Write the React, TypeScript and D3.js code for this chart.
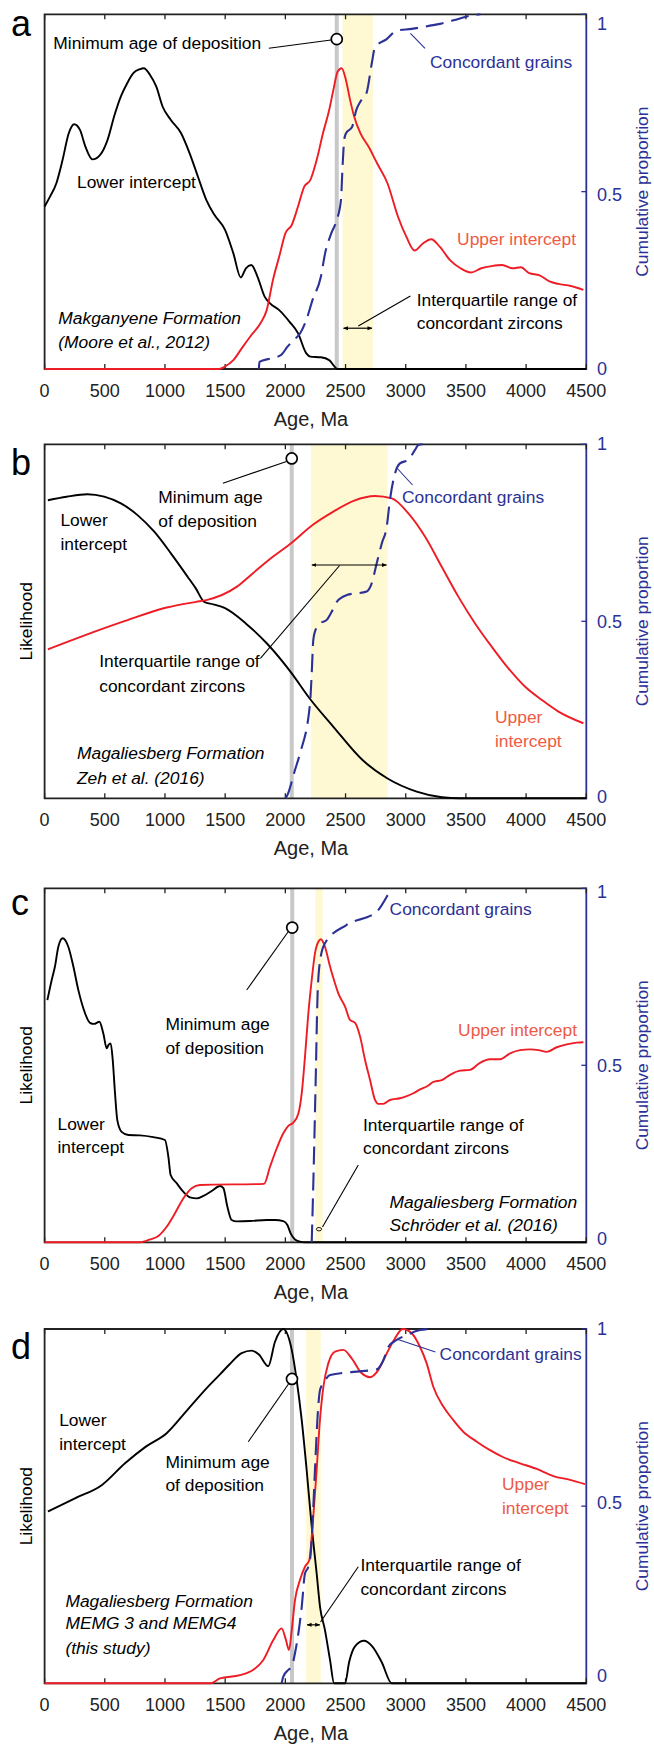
import React from "react";
import * as d3 from "d3";

type Pt = [number, number];

// Shared axes
const ageTicks = [0, 500, 1000, 1500, 2000, 2500, 3000, 3500, 4000, 4500];
const cumTicks = [0, 0.5, 1];
const cumTickLabels = ["0", "0.5", "1"];

// ---- a: Makganyene Formation (Moore et al., 2012)
const lowerA: Pt[] = [
  [0, 0.458], [45, 0.486], [97, 0.523], [149, 0.589], [200, 0.664], [246, 0.69], [294, 0.674],
  [339, 0.627], [398, 0.591], [460, 0.603], [523, 0.646], [581, 0.716], [633, 0.768], [685, 0.805],
  [737, 0.834], [789, 0.845], [824, 0.848], [876, 0.829], [928, 0.796], [980, 0.74], [1049, 0.702],
  [1135, 0.664], [1205, 0.608], [1274, 0.542], [1343, 0.477], [1412, 0.434], [1499, 0.392],
  [1568, 0.326], [1630, 0.258], [1672, 0.284], [1717, 0.293], [1769, 0.26], [1828, 0.204],
  [1873, 0.185], [1949, 0.166], [2035, 0.133], [2105, 0.101], [2174, 0.044], [2208, 0.035],
  [2295, 0.033], [2364, 0.025], [2434, 0], [4500, 0],
];
const upperA: Pt[] = [
  [0, 0], [1450, 0], [1499, 0.007], [1568, 0.025], [1637, 0.058], [1707, 0.091], [1793, 0.129],
  [1845, 0.166], [1897, 0.251], [1949, 0.317], [2001, 0.383], [2053, 0.406], [2105, 0.458],
  [2157, 0.514], [2208, 0.533], [2260, 0.589], [2312, 0.664], [2364, 0.73], [2399, 0.787],
  [2434, 0.838], [2468, 0.848], [2503, 0.815], [2538, 0.758], [2572, 0.711], [2624, 0.664],
  [2693, 0.626], [2762, 0.58], [2849, 0.523], [2935, 0.43], [3005, 0.373], [3074, 0.334],
  [3143, 0.354], [3212, 0.366], [3282, 0.345], [3368, 0.307], [3455, 0.284], [3541, 0.272],
  [3628, 0.284], [3714, 0.29], [3801, 0.293], [3887, 0.284], [3957, 0.287], [4026, 0.27],
  [4112, 0.264], [4199, 0.246], [4268, 0.24], [4372, 0.234], [4476, 0.223],
];
const concordA: Pt[] = [
  [1780, 0], [1785, 0.02], [1880, 0.03], [1966, 0.04], [2018, 0.063], [2070, 0.082], [2122, 0.1],
  [2174, 0.138], [2226, 0.195], [2295, 0.26], [2330, 0.326], [2382, 0.383], [2427, 0.42],
  [2462, 0.477], [2475, 0.57], [2489, 0.646], [2503, 0.664], [2555, 0.683], [2589, 0.73],
  [2624, 0.754], [2676, 0.78], [2717, 0.86], [2745, 0.907], [2842, 0.93], [2925, 0.954],
  [3050, 0.959], [3202, 0.968], [3285, 0.973], [3437, 0.987], [3534, 0.996], [3620, 1.0],
];

// ---- b: Magaliesberg Formation, Zeh et al. (2016)
const lowerB: Pt[] = [
  [27, 0.842], [183, 0.852], [356, 0.859], [495, 0.852], [634, 0.833], [772, 0.8], [911, 0.753],
  [1049, 0.692], [1188, 0.626], [1256, 0.593], [1326, 0.555], [1400, 0.548], [1499, 0.537],
  [1671, 0.494], [1845, 0.438], [2053, 0.353], [2191, 0.287], [2399, 0.202], [2641, 0.108],
  [2849, 0.056], [3091, 0.019], [3300, 0.003], [3450, 0], [4500, 0],
];
const upperB: Pt[] = [
  [27, 0.421], [322, 0.459], [669, 0.501], [1014, 0.539], [1258, 0.555], [1344, 0.56],
  [1598, 0.598], [1731, 0.636], [1880, 0.678], [2053, 0.722], [2226, 0.772], [2399, 0.81],
  [2572, 0.841], [2745, 0.854], [2884, 0.847], [3022, 0.805], [3161, 0.739], [3299, 0.654],
  [3438, 0.569], [3576, 0.494], [3715, 0.428], [3853, 0.367], [3992, 0.315], [4130, 0.278],
  [4269, 0.245], [4476, 0.212],
];
const concordB: Pt[] = [
  [2000, 0], [2011, 0.005], [2080, 0.08], [2122, 0.127], [2205, 0.268], [2219, 0.353],
  [2232, 0.447], [2246, 0.471], [2288, 0.494], [2344, 0.504], [2385, 0.527], [2427, 0.555],
  [2510, 0.574], [2676, 0.584], [2717, 0.607], [2759, 0.664], [2801, 0.72], [2842, 0.767],
  [2869, 0.843], [2911, 0.918], [2952, 0.946], [3021, 0.956], [3077, 0.984], [3105, 0.998],
  [3140, 1.0],
];

// ---- c: Magaliesberg Formation, Schröder et al. (2016)
const lowerC: Pt[] = [
  [23, 0.684], [59, 0.741], [86, 0.779], [114, 0.835], [150, 0.859], [197, 0.835], [239, 0.779],
  [280, 0.713], [322, 0.661], [377, 0.62], [410, 0.617], [455, 0.623], [488, 0.59], [516, 0.548],
  [530, 0.557], [549, 0.562], [566, 0.515], [585, 0.421], [604, 0.345], [640, 0.312], [696, 0.303],
  [792, 0.302], [903, 0.297], [1000, 0.289], [1028, 0.242], [1047, 0.19], [1097, 0.167],
  [1152, 0.143], [1208, 0.127], [1264, 0.124], [1319, 0.131], [1388, 0.145], [1457, 0.159],
  [1485, 0.153], [1518, 0.101], [1554, 0.063], [1596, 0.059], [1706, 0.06], [1845, 0.063],
  [1914, 0.063], [1983, 0.06], [2017, 0.049], [2044, 0.025], [2080, 0.008], [2122, 0.002],
  [2160, 0], [4500, 0],
];
const upperC: Pt[] = [
  [0, 0], [790, 0], [876, 0.008], [945, 0.018], [1014, 0.044], [1083, 0.082], [1152, 0.124],
  [1222, 0.153], [1291, 0.162], [1823, 0.165], [1873, 0.214], [1928, 0.265], [1983, 0.308],
  [2025, 0.329], [2066, 0.338], [2108, 0.364], [2136, 0.421], [2163, 0.524], [2191, 0.647],
  [2219, 0.741], [2246, 0.816], [2274, 0.849], [2296, 0.856], [2329, 0.835], [2371, 0.779],
  [2412, 0.732], [2440, 0.703], [2496, 0.666], [2537, 0.628], [2579, 0.62], [2621, 0.581],
  [2662, 0.515], [2704, 0.458], [2745, 0.402], [2772, 0.391], [2814, 0.391], [2869, 0.402],
  [2952, 0.407], [3008, 0.413], [3063, 0.421], [3119, 0.432], [3174, 0.44], [3230, 0.453],
  [3299, 0.458], [3368, 0.473], [3451, 0.485], [3534, 0.487], [3617, 0.507], [3700, 0.517],
  [3784, 0.517], [3867, 0.534], [3950, 0.543], [4033, 0.545], [4102, 0.543], [4171, 0.538],
  [4254, 0.551], [4337, 0.559], [4420, 0.564], [4476, 0.565],
];
const concordC: Pt[] = [
  [2219, 0], [2233, 0.176], [2252, 0.459], [2269, 0.713], [2294, 0.807], [2329, 0.845],
  [2510, 0.897], [2759, 0.934], [2842, 0.976], [2880, 1.0],
];

// ---- d: Magaliesberg Formation, MEMG 3 and MEMG4 (this study)
const lowerD: Pt[] = [
  [27, 0.485], [252, 0.522], [477, 0.56], [668, 0.621], [841, 0.668], [1014, 0.706], [1187, 0.772],
  [1360, 0.838], [1457, 0.872], [1533, 0.899], [1637, 0.932], [1720, 0.939], [1780, 0.928],
  [1858, 0.895], [1914, 0.964], [1983, 1.0], [2053, 0.941], [2094, 0.856], [2136, 0.743],
  [2177, 0.602], [2219, 0.442], [2260, 0.31], [2288, 0.216], [2329, 0.15], [2371, 0.066],
  [2405, 0], [2496, 0], [2530, 0.06], [2580, 0.105], [2653, 0.12], [2720, 0.105], [2800, 0.06],
  [2884, 0], [4500, 0],
];
const upperD: Pt[] = [
  [0, 0], [1380, 0], [1457, 0.014], [1623, 0.023], [1734, 0.038], [1817, 0.066], [1900, 0.122],
  [1969, 0.155], [2005, 0.122], [2030, 0.094], [2053, 0.15], [2080, 0.235], [2122, 0.292],
  [2163, 0.329], [2199, 0.348], [2219, 0.414], [2238, 0.498], [2260, 0.602], [2283, 0.724],
  [2316, 0.837], [2357, 0.903], [2413, 0.936], [2482, 0.941], [2551, 0.917], [2634, 0.875],
  [2703, 0.864], [2772, 0.884], [2842, 0.931], [2911, 0.974], [2974, 1.0], [3049, 0.988],
  [3118, 0.95], [3174, 0.903], [3229, 0.837], [3312, 0.781], [3395, 0.743], [3478, 0.71],
  [3590, 0.682], [3700, 0.658], [3811, 0.638], [3949, 0.621], [4088, 0.605], [4226, 0.585],
  [4365, 0.574], [4489, 0.562],
];
const concordD: Pt[] = [
  [1969, 0], [1983, 0.019], [2025, 0.038], [2053, 0.047], [2080, 0.085], [2108, 0.141],
  [2136, 0.216], [2163, 0.31], [2191, 0.329], [2211, 0.367], [2227, 0.461], [2246, 0.602],
  [2266, 0.743], [2288, 0.828], [2316, 0.847], [2371, 0.87], [2565, 0.879], [2759, 0.886],
  [2814, 0.912], [2856, 0.95], [2925, 0.969], [3008, 0.983], [3118, 0.997], [3194, 1.0],
];

// Minimum depositional ages and interquartile ranges of concordant grains (Ma)
const minAges = [2427, 2053, 2057, 2055];
const iqrRanges: Pt[] = [[2475, 2728], [2212, 2849], [2249, 2310], [2172, 2294]];

const FONT = '"Liberation Sans", Arial, Helvetica, sans-serif';
const BLUE = "#2b3196";
const RED = "#ee1c24";
const RED_TEXT = "#ef5a45";
const GRAY = "#c8c8c8";
const BAND = "#fff9d3";
const PLOT_LEFT = 44.6;
const PLOT_RIGHT = 586.3;
const FS = 17.4;

type Label = { t: string; x: number; y: number; c?: "blue" | "red"; i?: boolean; end?: boolean };
type Leader = { x1: number; y1: number; x2: number; y2: number; blue?: boolean };

interface PanelCfg {
  letter: string;
  letterBase: number;
  top: number;
  bottom: number;
  lower: Pt[];
  upper: Pt[];
  concord: Pt[];
  minAge: number;
  iqr: Pt;
  circleV: number;
  arrowV: number | null;
  ellipseV?: number;
  likelihood: boolean;
  cumDy: number[];
  labels: Label[];
  leaders: Leader[];
}

const panels: PanelCfg[] = [
  {
    letter: "a", letterBase: 36, top: 14.3, bottom: 369,
    lower: lowerA, upper: upperA, concord: concordA,
    minAge: minAges[0], iqr: iqrRanges[0], circleV: 0.93, arrowV: 0.115,
    likelihood: false, cumDy: [0, 3, 9],
    labels: [
      { t: "Minimum age of deposition", x: 53.3, y: 42.7 },
      { t: "Concordant grains", x: 430, y: 61.7, c: "blue" },
      { t: "Lower intercept", x: 77, y: 181.7 },
      { t: "Upper intercept", x: 576, y: 239.3, c: "red", end: true },
      { t: "Interquartile range of", x: 416.7, y: 300 },
      { t: "concordant zircons", x: 416.7, y: 323.3 },
      { t: "Makganyene Formation", x: 58.3, y: 318.3, i: true },
      { t: "(Moore et al., 2012)", x: 58.3, y: 341.7, i: true },
    ],
    leaders: [
      { x1: 268.8, y1: 48.3, x2: 331, y2: 40 },
      { x1: 425, y1: 48.3, x2: 410.4, y2: 33.3, blue: true },
      { x1: 410.4, y1: 296, x2: 358.3, y2: 326 },
    ],
  },
  {
    letter: "b", letterBase: 475, top: 444.3, bottom: 798.3,
    lower: lowerB, upper: upperB, concord: concordB,
    minAge: minAges[1], iqr: iqrRanges[1], circleV: 0.96, arrowV: 0.659,
    likelihood: true, cumDy: [-2, 0, -1],
    labels: [
      { t: "Minimum age", x: 158.3, y: 496.7 },
      { t: "of deposition", x: 158.3, y: 520.7 },
      { t: "Lower", x: 60.4, y: 520 },
      { t: "intercept", x: 60.4, y: 544 },
      { t: "Interquartile range of", x: 99.2, y: 660.7 },
      { t: "concordant zircons", x: 99.2, y: 685.7 },
      { t: "Magaliesberg Formation", x: 77, y: 753.3, i: true },
      { t: "Zeh et al. (2016)", x: 77, y: 777.7, i: true },
      { t: "Concordant grains", x: 402, y: 496.7, c: "blue" },
      { t: "Upper", x: 495, y: 717.3, c: "red" },
      { t: "intercept", x: 495, y: 740.7, c: "red" },
    ],
    leaders: [
      { x1: 222.9, y1: 483.3, x2: 286.5, y2: 461.5 },
      { x1: 412.5, y1: 485, x2: 396, y2: 467, blue: true },
      { x1: 339.6, y1: 565.5, x2: 260.4, y2: 658.3 },
    ],
  },
  {
    letter: "c", letterBase: 915, top: 888.3, bottom: 1242.3,
    lower: lowerC, upper: upperC, concord: concordC,
    minAge: minAges[2], iqr: iqrRanges[2], circleV: 0.889, arrowV: null, ellipseV: 0.037,
    likelihood: true, cumDy: [-4, 0, 3],
    labels: [
      { t: "Minimum age", x: 165.4, y: 1024.3 },
      { t: "of deposition", x: 165.4, y: 1048.3 },
      { t: "Lower", x: 57.5, y: 1124.3 },
      { t: "intercept", x: 57.5, y: 1147.3 },
      { t: "Upper intercept", x: 577, y: 1030, c: "red", end: true },
      { t: "Concordant grains", x: 389.6, y: 909.3, c: "blue" },
      { t: "Interquartile range of", x: 363, y: 1125 },
      { t: "concordant zircons", x: 363, y: 1148 },
      { t: "Magaliesberg Formation", x: 389.6, y: 1201.7, i: true },
      { t: "Schröder et al. (2016)", x: 389.6, y: 1225, i: true },
    ],
    leaders: [
      { x1: 246.7, y1: 990, x2: 288, y2: 932 },
      { x1: 322.5, y1: 1227, x2: 358.3, y2: 1165 },
    ],
  },
  {
    letter: "d", letterBase: 1359, top: 1329, bottom: 1683.3,
    lower: lowerD, upper: upperD, concord: concordD,
    minAge: minAges[3], iqr: iqrRanges[3], circleV: 0.859, arrowV: 0.165,
    likelihood: true, cumDy: [-8, -3, 0],
    labels: [
      { t: "Lower", x: 59.2, y: 1420 },
      { t: "intercept", x: 59.2, y: 1444 },
      { t: "Minimum age", x: 165.4, y: 1461.7 },
      { t: "of deposition", x: 165.4, y: 1485 },
      { t: "Magaliesberg Formation", x: 65.4, y: 1600.7, i: true },
      { t: "MEMG 3 and MEMG4", x: 65.4, y: 1623.3, i: true },
      { t: "(this study)", x: 65.4, y: 1648.3, i: true },
      { t: "Interquartile range of", x: 360.4, y: 1565 },
      { t: "concordant zircons", x: 360.4, y: 1589 },
      { t: "Upper", x: 502, y: 1484.3, c: "red" },
      { t: "intercept", x: 502, y: 1508.3, c: "red" },
      { t: "Concordant grains", x: 439.6, y: 1354.3, c: "blue" },
    ],
    leaders: [
      { x1: 248.3, y1: 1441.7, x2: 288.5, y2: 1384 },
      { x1: 435.4, y1: 1352, x2: 398, y2: 1339.5, blue: true },
      { x1: 320.5, y1: 1622, x2: 358.3, y2: 1566.7 },
    ],
  },
];

function Panel({ p, idx }: { p: PanelCfg; idx: number }) {
  const x = d3.scaleLinear().domain([0, 4500]).range([PLOT_LEFT, PLOT_RIGHT]);
  const y = d3.scaleLinear().domain([0, 1]).range([p.bottom, p.top]);
  const line = d3
    .line<Pt>()
    .x((d) => x(d[0]))
    .y((d) => y(d[1]))
    .curve(d3.curveMonotoneX);
  const midY = (p.top + p.bottom) / 2;
  const cx = x(p.minAge);
  const arrowId = `arr${idx}`;

  return (
    <g>
      {/* interquartile band and minimum-age line */}
      <rect x={x(p.iqr[0])} y={p.top} width={x(p.iqr[1]) - x(p.iqr[0])} height={p.bottom - p.top} fill={BAND} />
      <line x1={cx} x2={cx} y1={p.top} y2={p.bottom} stroke={GRAY} strokeWidth={4} />

      {/* frame */}
      <path d={`M${PLOT_RIGHT},${p.top}H${PLOT_LEFT}V${p.bottom}H${PLOT_RIGHT}`} fill="none" stroke="#222" strokeWidth={1.8} />
      <line x1={PLOT_RIGHT} x2={PLOT_RIGHT} y1={p.top - 0.9} y2={p.bottom + 0.9} stroke={BLUE} strokeWidth={1.8} />
      {ageTicks.map((t) => (
        <g key={t}>
          <line x1={x(t)} x2={x(t)} y1={p.bottom} y2={p.bottom - 5} stroke="#222" strokeWidth={1.3} />
          <line x1={x(t)} x2={x(t)} y1={p.top} y2={p.top + 5} stroke="#222" strokeWidth={1.3} />
          <text x={x(t)} y={p.bottom + 21.5} dy="0.35em" textAnchor="middle" fontSize={18} fill="#222">
            {t}
          </text>
        </g>
      ))}
      {cumTicks.map((t, i) => (
        <g key={t}>
          <line x1={PLOT_RIGHT} x2={PLOT_RIGHT - 5} y1={y(t)} y2={y(t)} stroke={BLUE} strokeWidth={1.3} />
          <text x={597} y={y(t) + p.cumDy[i]} dy="0.35em" fontSize={18} fill={BLUE}>
            {cumTickLabels[i]}
          </text>
        </g>
      ))}
      <text x={311} y={p.bottom + 49.5} dy="0.35em" textAnchor="middle" fontSize={20} fill="#222">
        Age, Ma
      </text>
      <text transform={`translate(642,${midY}) rotate(-90)`} dy="0.35em" textAnchor="middle" fontSize={FS} fill={BLUE}>
        Cumulative proportion
      </text>
      {p.likelihood && (
        <text transform={`translate(26,${midY}) rotate(-90)`} dy="0.35em" textAnchor="middle" fontSize={FS} fill="#000">
          Likelihood
        </text>
      )}
      <text x={11} y={p.letterBase} fontSize={36} fill="#000">
        {p.letter}
      </text>

      {/* likelihood curves and cumulative proportion of concordant grains */}
      <path d={line(p.lower) || ""} fill="none" stroke="#000" strokeWidth={1.9} strokeLinejoin="round" />
      <path d={line(p.upper) || ""} fill="none" stroke={RED} strokeWidth={1.9} strokeLinejoin="round" />
      <path d={line(p.concord) || ""} fill="none" stroke={BLUE} strokeWidth={2.1} strokeDasharray="18 8" />

      {/* annotations */}
      {p.leaders.map((l, i) => (
        <line key={i} x1={l.x1} y1={l.y1} x2={l.x2} y2={l.y2} stroke={l.blue ? BLUE : "#000"} strokeWidth={1.1} />
      ))}
      <circle cx={cx} cy={y(p.circleV)} r={5.5} fill="#fff" stroke="#000" strokeWidth={1.7} />
      {p.arrowV !== null && (
        <line
          x1={x(p.iqr[0]) + 1}
          x2={x(p.iqr[1]) - 1}
          y1={y(p.arrowV)}
          y2={y(p.arrowV)}
          stroke="#000"
          strokeWidth={1.2}
          markerStart={`url(#${arrowId})`}
          markerEnd={`url(#${arrowId})`}
        />
      )}
      {p.ellipseV !== undefined && (
        <ellipse cx={x((p.iqr[0] + p.iqr[1]) / 2)} cy={y(p.ellipseV)} rx={2.6} ry={1.7} fill="none" stroke="#000" strokeWidth={0.9} />
      )}
      <defs>
        <marker id={arrowId} viewBox="0 0 10 10" refX={9} refY={5} markerWidth={5} markerHeight={5} orient="auto-start-reverse" markerUnits="userSpaceOnUse">
          <path d="M0,1 L10,5 L0,9 z" fill="#000" />
        </marker>
      </defs>
      {p.labels.map((l, i) => (
        <text
          key={i}
          x={l.x}
          y={l.y}
          dy="0.35em"
          fontSize={FS}
          fontStyle={l.i ? "italic" : "normal"}
          textAnchor={l.end ? "end" : "start"}
          fill={l.c === "blue" ? BLUE : l.c === "red" ? RED_TEXT : "#000"}
        >
          {l.t}
        </text>
      ))}
    </g>
  );
}

export default function App() {
  return (
    <svg
      width={654}
      height={1744}
      viewBox="0 0 654 1744"
      style={{ position: "absolute", left: 0, top: 0, display: "block", background: "#fff" }}
      fontFamily={FONT}
    >
      <rect width={654} height={1744} fill="#fff" />
      {panels.map((p, i) => (
        <Panel key={p.letter} p={p} idx={i} />
      ))}
    </svg>
  );
}
